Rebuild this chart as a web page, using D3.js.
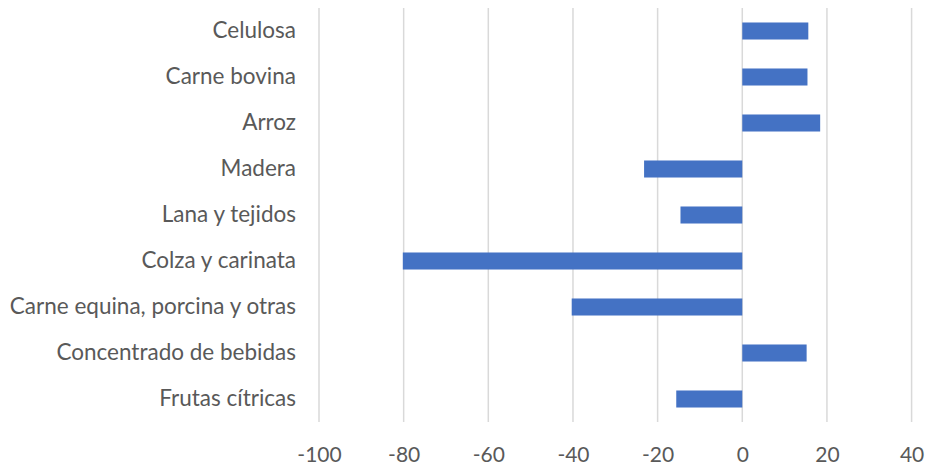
<!DOCTYPE html>
<html>
<head>
<meta charset="utf-8">
<script src="https://cdn.jsdelivr.net/npm/d3@7"></script>
<style>
  body { margin: 0; background: #fff; }
  #chart { width: 927px; height: 465px; }
</style>
</head>
<body>
<div id="chart"></div>
<script>
// Data (top to bottom)
const categories = [
  "Celulosa",
  "Carne bovina",
  "Arroz",
  "Madera",
  "Lana y tejidos",
  "Colza y carinata",
  "Carne equina, porcina y otras",
  "Concentrado de bebidas",
  "Frutas cítricas"
];
const values = [15.6, 15.4, 18.4, -23.2, -14.6, -80.2, -40.3, 15.2, -15.6];
const xTicks = [-100, -80, -60, -40, -20, 0, 20, 40];

const margin = { top: 8, right: 15, bottom: 43, left: 319 };
const width = 927 - margin.left - margin.right;
const height = 465 - margin.top - margin.bottom;

const svg = d3
  .select("#chart")
  .append("svg")
  .attr("width", 927)
  .attr("height", 465)
  .append("g")
  .attr("transform", `translate(${margin.left}, ${margin.top})`);

const xScale = d3.scaleLinear().domain([-100, 40]).range([0, 592.6]);
const yScale = d3.scaleBand().domain(categories).range([0, height]).paddingInner(0.63).paddingOuter(0.315);

// Gridlines
svg
  .selectAll(".grid")
  .data(xTicks)
  .enter()
  .append("line")
  .attr("x1", (d) => xScale(d))
  .attr("x2", (d) => xScale(d))
  .attr("y1", 0)
  .attr("y2", height)
  .attr("stroke", "#d9d9d9")
  .attr("stroke-width", 1.5);

// Bars
svg
  .selectAll(".bar")
  .data(categories)
  .enter()
  .append("rect")
  .attr("x", (d, i) => xScale(Math.min(0, values[i])))
  .attr("width", (d, i) => Math.abs(xScale(values[i]) - xScale(0)))
  .attr("y", (d) => yScale(d))
  .attr("height", yScale.bandwidth())
  .attr("fill", "#4472c4");

// x-axis labels
const xAxis = svg
  .append("g")
  .attr("transform", `translate(0, ${height})`)
  .call(d3.axisBottom(xScale).tickValues(xTicks).tickFormat((d) => String(d)).tickSize(0).tickPadding(25));
xAxis.select(".domain").remove();
xAxis
  .selectAll("text")
  .attr("fill", "#595959")
  .style("font-family", "Lato, sans-serif")
  .style("font-size", "21px");

// y-axis labels
const yAxis = svg
  .append("g")
  .call(d3.axisLeft(yScale).tickSize(0).tickPadding(23));
yAxis.select(".domain").remove();
yAxis
  .selectAll("text")
  .attr("fill", "#595959")
  .style("font-family", "Lato, sans-serif")
  .style("font-size", "22.5px");
</script>
</body>
</html>
